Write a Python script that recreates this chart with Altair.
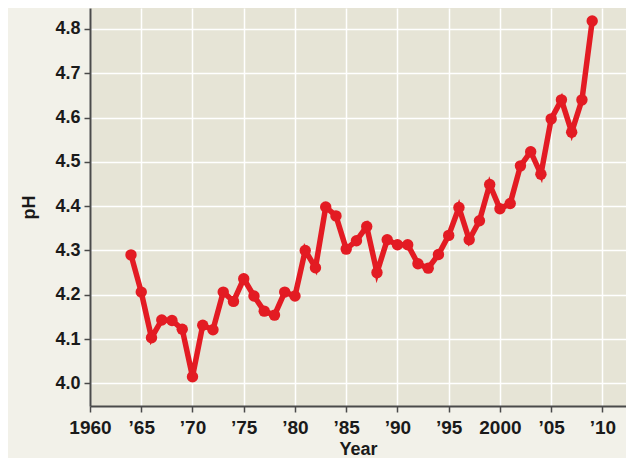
import altair as alt
import pandas as pd

years = list(range(1964, 2010))
ph = [4.29, 4.206, 4.103, 4.143, 4.142, 4.122, 4.015, 4.131, 4.121, 4.206,
      4.185, 4.236, 4.197, 4.163, 4.154, 4.206, 4.197, 4.30, 4.261, 4.398,
      4.378, 4.303, 4.322, 4.354, 4.25, 4.324, 4.313, 4.313, 4.270, 4.260,
      4.291, 4.334, 4.397, 4.324, 4.367, 4.449, 4.394, 4.406, 4.491, 4.523,
      4.472, 4.597, 4.640, 4.567, 4.640, 4.818]
x_ticks = [1960, 1965, 1970, 1975, 1980, 1985, 1990, 1995, 2000, 2005, 2010]
y_ticks = [4.0, 4.1, 4.2, 4.3, 4.4, 4.5, 4.6, 4.7, 4.8]

df = pd.DataFrame({"Year": years, "pH": ph})

RED = "#e31b23"
FONT = "Liberation Sans"

x = alt.X("Year:Q",
          scale=alt.Scale(domain=[1960, 2012.3], nice=False, zero=False),
          axis=alt.Axis(values=x_ticks, title="Year", labelOverlap=False, labelFlush=False,
                        labelExpr="(datum.value == 1960 || datum.value == 2000) ? datum.value + '' : '\u2019' + substring(datum.value + '', 2, 4)"))
y = alt.Y("pH:Q",
          scale=alt.Scale(domain=[3.9488, 4.8474], nice=False, zero=False),
          axis=alt.Axis(values=y_ticks, title="pH", format=".1f", labelOverlap=False))

line = alt.Chart(df).mark_line(color=RED, strokeWidth=5.5).encode(x=x, y=y)
pts = alt.Chart(df).mark_point(filled=True, color=RED, size=130, opacity=1).encode(x=x, y=y)

chart = (line + pts).properties(
    width=536, height=398,
    autosize=alt.AutoSizeParams(type="none"),
    padding={"left": 82, "top": 0, "right": 0, "bottom": 52},
    background="#f2f1e9",
).configure_view(
    fill="#e6e4d6", stroke=None
).configure_axis(
    grid=True, gridColor="#ffffff", gridWidth=1.5, gridOpacity=1,
    domainColor="#4a4a4a", domainWidth=2,
    tickColor="#4a4a4a", tickWidth=1.5, tickSize=6,
    labelFont=FONT, labelFontWeight="bold", labelColor="#1a1a1a",
    titleFont=FONT, titleFontWeight="bold", titleColor="#1a1a1a",
).configure_axisX(
    labelFontSize=19, labelPadding=6, titleFontSize=18, titlePadding=3,
).configure_axisY(
    labelFontSize=18, labelPadding=4, titleFontSize=18, titlePadding=16,
)

chart.save("out.html", embed_options={"renderer": "svg", "actions": False})
